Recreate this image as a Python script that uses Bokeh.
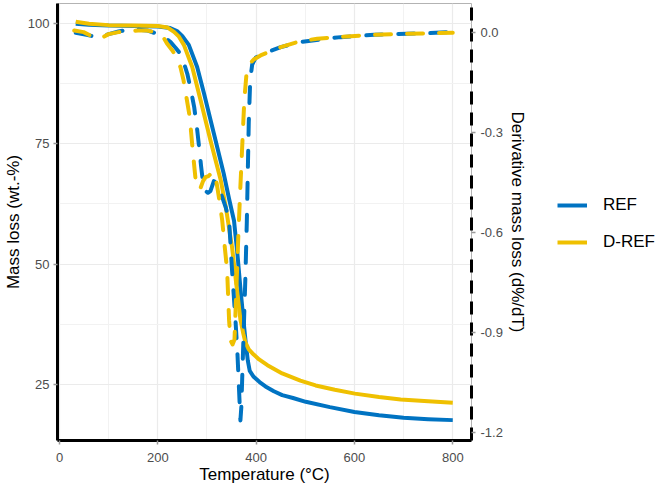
from bokeh.plotting import figure
from bokeh.layouts import row
from bokeh.models import (Range1d, LinearAxis, FixedTicker, PrintfTickFormatter,
                          Legend, LegendItem)
from bokeh.embed import file_html
from bokeh.resources import INLINE

# ---------------- data ----------------
# Mass loss (TG), wt.-%
T_REF = [33, 60, 100, 150, 200, 225, 240, 250, 263, 280, 294, 314, 334, 345, 355,
         362, 368, 375, 379, 383, 387, 395, 407, 419, 436, 453, 475, 501, 550, 600,
         650, 700, 750, 800]
MASS_REF = [99.9, 99.7, 99.5, 99.4, 99.3, 99.0, 98.3, 97.3, 95.5, 90.9, 85.4, 77.1,
            68.8, 63.5, 59.0, 52.0, 45.0, 37.5, 33.5, 30.0, 27.8, 26.6, 25.5, 24.6,
            23.6, 22.8, 22.2, 21.4, 20.3, 19.3, 18.6, 18.1, 17.8, 17.6]

T_DREF = [33, 60, 100, 150, 200, 220, 233, 243, 253, 270, 287, 307, 328, 338, 351,
          360, 368, 374, 378, 385, 395, 406, 423, 453, 490, 521, 560, 601, 650, 694,
          750, 800]
MASS_DREF = [100.3, 99.9, 99.6, 99.5, 99.4, 99.1, 98.2, 97.2, 95.5, 90.9, 84.0, 75.7,
             67.4, 62.0, 53.5, 45.5, 38.5, 35.5, 33.8, 32.3, 31.2, 30.2, 29.0, 27.3,
             25.8, 24.8, 23.9, 23.1, 22.4, 21.9, 21.5, 21.2]

# Derivative mass loss (DTG), d%/dT
T_DTG_REF = [33, 55, 77, 100, 120, 138, 160, 178, 199, 215, 226, 236, 246, 253, 260,
             267, 274, 280, 284, 288, 292, 297, 302, 307, 314, 321, 328, 338, 345, 351,
             358, 362, 365, 368, 370, 372, 375, 378, 381, 383, 385, 388, 392, 399, 410,
             423, 450, 490, 530, 572, 610, 640, 670, 707, 750, 796, 799]
DTG_REF = [0.0, -0.006, -0.013, -0.004, 0.004, 0.009, 0.009, 0.007, -0.003, -0.015,
           -0.028, -0.045, -0.063, -0.09, -0.123, -0.17, -0.223, -0.29, -0.343, -0.40,
           -0.45, -0.475, -0.48, -0.475, -0.445, -0.453, -0.48, -0.523, -0.563, -0.713,
           -0.863, -0.963, -1.063, -1.163, -1.12, -1.02, -0.88, -0.74, -0.57, -0.42,
           -0.27, -0.14, -0.095, -0.075, -0.065, -0.058, -0.043, -0.028, -0.02, -0.013,
           -0.009, -0.006, -0.004, -0.003, -0.001, 0.002, 0.03]

T_DTG_DREF = [30, 49, 65, 77, 90, 100, 120, 138, 160, 178, 200, 210, 219, 228, 235,
              246, 252, 257, 265, 271, 277, 282, 287, 292, 297, 303, 310, 316, 321, 326,
              331, 336, 341, 345, 348, 352, 356, 360, 364, 368, 372, 376, 380, 386, 395,
              409, 430, 450, 490, 524, 572, 640, 707, 760, 800]
DTG_DREF = [0.007, 0.002, -0.01, -0.018, -0.012, -0.004, 0.002, 0.005, 0.007, 0.007,
            0.0, -0.01, -0.033, -0.05, -0.065, -0.103, -0.14, -0.183, -0.253, -0.353,
            -0.443, -0.47, -0.465, -0.445, -0.433, -0.43, -0.42, -0.42, -0.463, -0.51,
            -0.563, -0.64, -0.713, -0.863, -0.923, -0.935, -0.92, -0.76, -0.6, -0.46,
            -0.33, -0.2, -0.13, -0.095, -0.08, -0.068, -0.055, -0.043, -0.025, -0.018,
            -0.012, -0.006, -0.003, -0.001, 0.0]

X_TICKS = [0, 200, 400, 600, 800]
X_MINOR = [100, 300, 500, 700]
Y_TICKS = [25, 50, 75, 100]
Y_MINOR = [37.5, 62.5, 87.5]
DTG_TICKS = [-1.2, -0.9, -0.6, -0.3, 0.0]
SERIES = ["REF", "D-REF"]

BLUE = "#0073C2"
YELLOW = "#EFC000"
COLORS = [BLUE, YELLOW]
FONT = "Liberation Sans"

# ---------------- main figure ----------------
p = figure(frame_width=414, frame_height=437,
           min_border_left=49, min_border_right=60, min_border_top=3,
           min_border_bottom=44,
           x_range=Range1d(-4.07, 838.1), y_range=Range1d(13.37, 104.09),
           output_backend="svg", toolbar_location=None)
p.extra_y_ranges = {"dtg": Range1d(-1.2232, 0.0879)}

p.background_fill_color = "white"
p.border_fill_color = "white"
p.outline_line_color = "#B3B3B3"
p.outline_line_width = 1

# grids
p.xgrid.ticker = FixedTicker(ticks=X_TICKS, minor_ticks=X_MINOR)
p.ygrid.ticker = FixedTicker(ticks=Y_TICKS, minor_ticks=Y_MINOR)
for g in (p.xgrid[0], p.ygrid[0]):
    g.grid_line_color = "#EBEBEB"
    g.grid_line_width = 1.2
    g.minor_grid_line_color = "#F2F2F2"
    g.minor_grid_line_width = 1

# axes
p.xaxis.ticker = FixedTicker(ticks=X_TICKS, minor_ticks=X_MINOR)
p.yaxis.ticker = FixedTicker(ticks=Y_TICKS, minor_ticks=Y_MINOR)
p.xaxis.axis_label = "Temperature (°C)"
p.yaxis.axis_label = "Mass loss (wt.-%)"

ax2 = LinearAxis(y_range_name="dtg", ticker=FixedTicker(ticks=DTG_TICKS),
                 formatter=PrintfTickFormatter(format="%.1f"),
                 axis_label="Derivative mass loss (d%/dT)")
p.add_layout(ax2, "right")

for ax in (p.xaxis[0], p.yaxis[0], ax2):
    ax.major_label_text_font = FONT
    ax.major_label_text_font_size = "13px"
    ax.major_label_text_color = "#4D4D4D"
    ax.axis_label_text_font = FONT
    ax.axis_label_text_font_size = "17px"
    ax.axis_label_text_font_style = "normal"
    ax.axis_label_text_color = "black"
    ax.major_tick_line_color = "#999999"
    ax.major_tick_line_width = 1.5
    ax.major_tick_in = 0
    ax.major_tick_out = 4
    ax.minor_tick_line_color = None
    ax.axis_line_color = "black"
    ax.axis_line_width = 3

p.yaxis[0].major_label_standoff = 4
p.yaxis[0].axis_label_standoff = 2
p.xaxis[0].major_label_standoff = 8
p.xaxis[0].axis_label_standoff = 0
ax2.major_label_standoff = 5
ax2.axis_label_standoff = 2
ax2.axis_line_dash = "13 8"

# curves
p.line(T_REF, MASS_REF, line_color=BLUE, line_width=4, line_join="round")
p.line(T_DREF, MASS_DREF, line_color=YELLOW, line_width=4, line_join="round")
p.line(T_DTG_REF, DTG_REF, y_range_name="dtg", line_color=BLUE, line_width=4,
       line_dash="16 16", line_cap="round", line_join="round")
p.line(T_DTG_DREF, DTG_DREF, y_range_name="dtg", line_color=YELLOW, line_width=4,
       line_dash="16 16", line_cap="round", line_join="round")

# ---------------- legend panel (separate small figure) ----------------
# The series are drawn again here only to provide legend keys; this figure's
# ranges lie outside the data, so nothing of them shows except the legend.
lg = figure(width=125, height=484, min_border=0, x_range=Range1d(-2000, -1000),
            y_range=Range1d(-2000, -1000), x_axis_location=None, y_axis_location=None,
            output_backend="svg", toolbar_location=None)
lg.xgrid.visible = False
lg.ygrid.visible = False
lg.outline_line_color = None
lg.background_fill_color = "white"
lg.border_fill_color = "white"
items = []
for name, col, xs, ys in zip(SERIES, COLORS, [T_REF, T_DREF], [MASS_REF, MASS_DREF]):
    r = lg.line(xs, ys, line_color=col, line_width=4)
    items.append(LegendItem(label=name, renderers=[r]))

legend = Legend(items=items, location=(26, 186), margin=0, padding=0, spacing=17,
                glyph_width=30, glyph_height=20, label_height=20,
                label_standoff=16, label_text_font=FONT,
                label_text_font_size="17px", label_text_color="black",
                border_line_color=None, background_fill_alpha=0)
lg.add_layout(legend, "center")

layout = row(p, lg)
open("out.html", "w").write(file_html(layout, INLINE))
